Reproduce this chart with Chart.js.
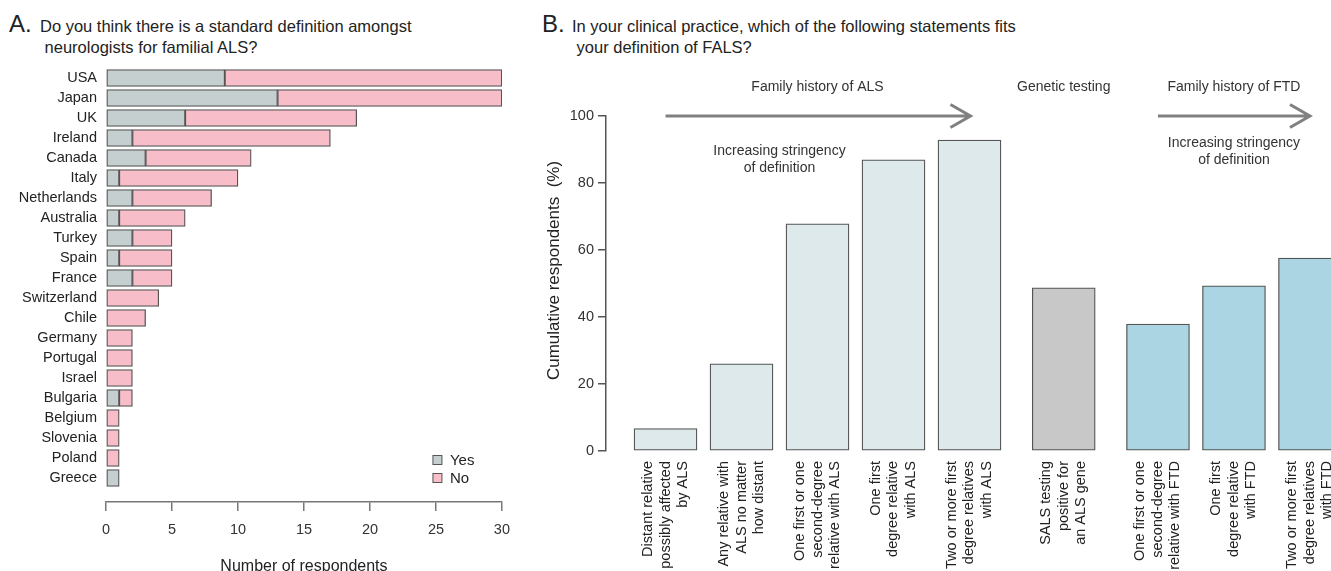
<!DOCTYPE html>
<html>
<head>
<meta charset="utf-8">
<script src="https://cdn.jsdelivr.net/npm/chart.js@4.4.1/dist/chart.umd.min.js"></script>
<style>
  html, body { margin: 0; padding: 0; background: #fff; }
  body { width: 1331px; height: 571px; overflow: hidden; position: relative;
         font-family: "Liberation Sans", Arial, sans-serif; color: #222; }
  .letter { position: absolute; font-size: 24px; line-height: 24px; }
  .title { position: absolute; font-size: 16.5px; line-height: 21px; }
  canvas { position: absolute; top: 0; }
</style>
</head>
<body>
<div class="letter" style="left:9px; top:12px;">A.</div>
<div class="title" style="left:40px; top:16px;">Do you think there is a standard definition amongst<br>&nbsp;neurologists for familial ALS?</div>
<div class="letter" style="left:542px; top:12px;">B.</div>
<div class="title" style="left:572px; top:16px;">In your clinical practice, which of the following statements fits<br>&nbsp;your definition of FALS?</div>

<canvas id="chartA" width="520" height="590" style="left:0px;"></canvas>
<canvas id="chartB" width="820" height="590" style="left:530px;"></canvas>

<script>
/* Panel A data */
const countries = ['USA', 'Japan', 'UK', 'Ireland', 'Canada', 'Italy', 'Netherlands', 'Australia',
  'Turkey', 'Spain', 'France', 'Switzerland', 'Chile', 'Germany', 'Portugal', 'Israel',
  'Bulgaria', 'Belgium', 'Slovenia', 'Poland', 'Greece'];
const yesCounts = [9, 13, 6, 2, 3, 1, 2, 1, 2, 1, 2, 0, 0, 0, 0, 0, 1, 0, 0, 0, 1];
const noCounts  = [21, 17, 13, 15, 8, 9, 6, 5, 3, 4, 3, 4, 3, 2, 2, 2, 1, 1, 1, 1, 0];
const countTicks = [0, 5, 10, 15, 20, 25, 30];

/* Panel B data */
const statements = [
  ['Distant relative', 'possibly affected', 'by ALS'],
  ['Any relative with', 'ALS no matter', 'how distant'],
  ['One first or one', 'second-degree', 'relative with ALS'],
  ['One first', 'degree relative', 'with ALS'],
  ['Two or more first', 'degree relatives', 'with ALS'],
  ['SALS testing', 'positive for', 'an ALS gene'],
  ['One first or one', 'second-degree', 'relative with FTD'],
  ['One first', 'degree relative', 'with FTD'],
  ['Two or more first', 'degree relatives', 'with FTD']
];
const statementGroups = ['ALS', 'ALS', 'ALS', 'ALS', 'ALS', 'Genetic', 'FTD', 'FTD', 'FTD'];
const cumulativePct = [6.7, 26, 67.8, 86.9, 92.8, 48.7, 37.9, 49.3, 57.6];
const pctTicks = [0, 20, 40, 60, 80, 100];

const FONT = '"Liberation Sans", Arial, sans-serif';
const groupColors = { ALS: '#dde9ea', Genetic: '#c8c8c8', FTD: '#acd5e3' };

/*______ panel A ______*/

const legendBoxes = {
  id: 'legendBoxes',
  afterDraw(chart) {
    const ctx = chart.ctx, area = chart.chartArea;
    ctx.save();
    ctx.font = '15px ' + FONT;
    ctx.textBaseline = 'middle';
    chart.data.datasets.forEach(function (ds, i) {
      const x = area.right - 69, y = area.bottom - 42 + i * 18;
      ctx.fillStyle = ds.backgroundColor;
      ctx.fillRect(x, y - 4.5, 9, 9);
      ctx.strokeStyle = '#555';
      ctx.lineWidth = 1;
      ctx.strokeRect(x, y - 4.5, 9, 9);
      ctx.fillStyle = '#222';
      ctx.fillText(ds.label, x + 17, y + 1);
    });
    ctx.restore();
  }
};

new Chart(document.getElementById('chartA'), {
  type: 'bar',
  data: {
    datasets: [
      { label: 'Yes', data: yesCounts.map((v, i) => ({ x: v, y: i })),
        backgroundColor: '#c5cfd0', borderColor: '#555', borderWidth: 1.3, borderSkipped: false },
      { label: 'No', data: noCounts.map((v, i) => ({ x: v, y: i })),
        backgroundColor: '#f7bdc8', borderColor: '#555', borderWidth: 1.3, borderSkipped: false }
    ]
  },
  options: {
    indexAxis: 'y',
    responsive: false,
    animation: false,
    barThickness: 17,
    layout: { padding: { top: 68, right: 18, left: 0, bottom: 0 } },
    plugins: { legend: { display: false }, tooltip: { enabled: false } },
    scales: {
      x: {
        type: 'linear', min: 0, max: 30, stacked: true,
        afterBuildTicks: s => { s.ticks = countTicks.map(v => ({ value: v })); },
        ticks: { padding: 10, color: '#333', font: { family: FONT, size: 14.5 } },
        grid: { drawOnChartArea: false, drawTicks: true, tickLength: 9, color: '#777', lineWidth: 1.5 },
        border: { display: true, color: '#777', width: 1.5 },
        title: { display: true, text: 'Number of respondents', color: '#222',
                 font: { family: FONT, size: 16 }, padding: { top: 0, bottom: 14 } },
        afterFit: s => { s.height = 88; }
      },
      y: {
        type: 'linear', reverse: true, offset: false, min: -0.5, max: 21.2, stacked: true,
        afterBuildTicks: s => { s.ticks = countries.map((c, i) => ({ value: i })); },
        ticks: { autoSkip: false, padding: 9, color: '#222', font: { family: FONT, size: 14.5 },
                 callback: v => countries[v] },
        grid: { display: false, drawTicks: false },
        border: { display: false },
        afterFit: s => { s.width = 106; }
      }
    }
  },
  plugins: [legendBoxes]
});

/*______ panel B ______*/

// bars sit one unit apart, with a wider gap where the statement group changes
const GROUP_GAP = 0.24;
const barPos = [];
statementGroups.forEach(function (g, i) {
  if (i === 0) barPos.push(0);
  else barPos.push(barPos[i - 1] + 1 + (g !== statementGroups[i - 1] ? GROUP_GAP : 0));
});

const LINE_H = 17.5;

function drawArrow(ctx, x1, x2, y) {
  ctx.beginPath();
  ctx.moveTo(x1, y);
  ctx.lineTo(x2, y);
  ctx.moveTo(x2 - 20, y - 11.5);
  ctx.lineTo(x2, y);
  ctx.lineTo(x2 - 20, y + 11.5);
  ctx.stroke();
}

const groupNotes = {
  id: 'groupNotes',
  afterDraw(chart) {
    const ctx = chart.ctx, x = chart.scales.x, y = chart.scales.y;
    const top = y.getPixelForValue(100);
    const px = v => x.getPixelForValue(v);
    ctx.save();
    ctx.strokeStyle = '#808080';
    ctx.lineWidth = 3;
    drawArrow(ctx, px(barPos[0]), px(barPos[4]) + 1, top);
    drawArrow(ctx, px(barPos[6]), px(barPos[8]), top);

    ctx.fillStyle = '#333';
    ctx.font = '14px ' + FONT;
    ctx.textAlign = 'center';
    ctx.textBaseline = 'middle';
    ctx.fillText('Family history of ALS', (px(barPos[0]) + px(barPos[4])) / 2, top - 29);
    ctx.fillText('Genetic testing', px(barPos[5]), top - 29);
    ctx.fillText('Family history of FTD', px(barPos[7]), top - 29);

    const xa = px((barPos[1] + barPos[2]) / 2);
    ctx.fillText('Increasing stringency', xa, top + 35);
    ctx.fillText('of definition', xa, top + 52);
    ctx.fillText('Increasing stringency', px(barPos[7]), top + 27);
    ctx.fillText('of definition', px(barPos[7]), top + 44);

    // y axis title, sits a little above the middle of the axis
    ctx.fillStyle = '#222';
    ctx.font = '17px ' + FONT;
    ctx.translate(chart.chartArea.left - 52, y.getPixelForValue(50) - 13);
    ctx.rotate(-Math.PI / 2);
    ctx.fillText('Cumulative respondents  (%)', 0, 0);
    ctx.restore();
  }
};

new Chart(document.getElementById('chartB'), {
  type: 'bar',
  data: {
    datasets: [{
      data: cumulativePct.map((v, i) => ({ x: barPos[i], y: v })),
      backgroundColor: statementGroups.map(g => groupColors[g]),
      borderColor: '#555',
      borderWidth: 1.3,
      borderSkipped: false,
      barThickness: 63
    }]
  },
  options: {
    responsive: false,
    animation: false,
    layout: { padding: { top: 116, right: 5, left: 0, bottom: 0 } },
    plugins: { legend: { display: false }, tooltip: { enabled: false } },
    scales: {
      x: {
        type: 'linear', offset: false, min: -0.783, max: 8.941,
        afterBuildTicks: s => { s.ticks = barPos.map(v => ({ value: v })); },
        ticks: {
          autoSkip: false, minRotation: 90, maxRotation: 90, padding: 10,
          labelOffset: -LINE_H, color: '#222',
          font: { family: FONT, size: 14.5, lineHeight: LINE_H / 14.5 },
          callback: v => statements[barPos.indexOf(v)]
        },
        grid: { display: false, drawTicks: false },
        border: { display: false },
        // fixed height; the rotated end labels must not shrink the plot sideways
        afterFit: s => { s.height = 139; s.paddingLeft = 0; s.paddingRight = 0; }
      },
      y: {
        type: 'linear', min: 0, max: 100,
        afterBuildTicks: s => { s.ticks = pctTicks.map(v => ({ value: v })); },
        ticks: { padding: 4, color: '#333', font: { family: FONT, size: 14.5 } },
        grid: { drawOnChartArea: false, drawTicks: true, tickLength: 8, color: '#555', lineWidth: 1.5 },
        border: { display: true, color: '#555', width: 1.5 },
        afterFit: s => { s.width = 76; }
      }
    }
  },
  plugins: [groupNotes]
});
</script>
</body>
</html>
